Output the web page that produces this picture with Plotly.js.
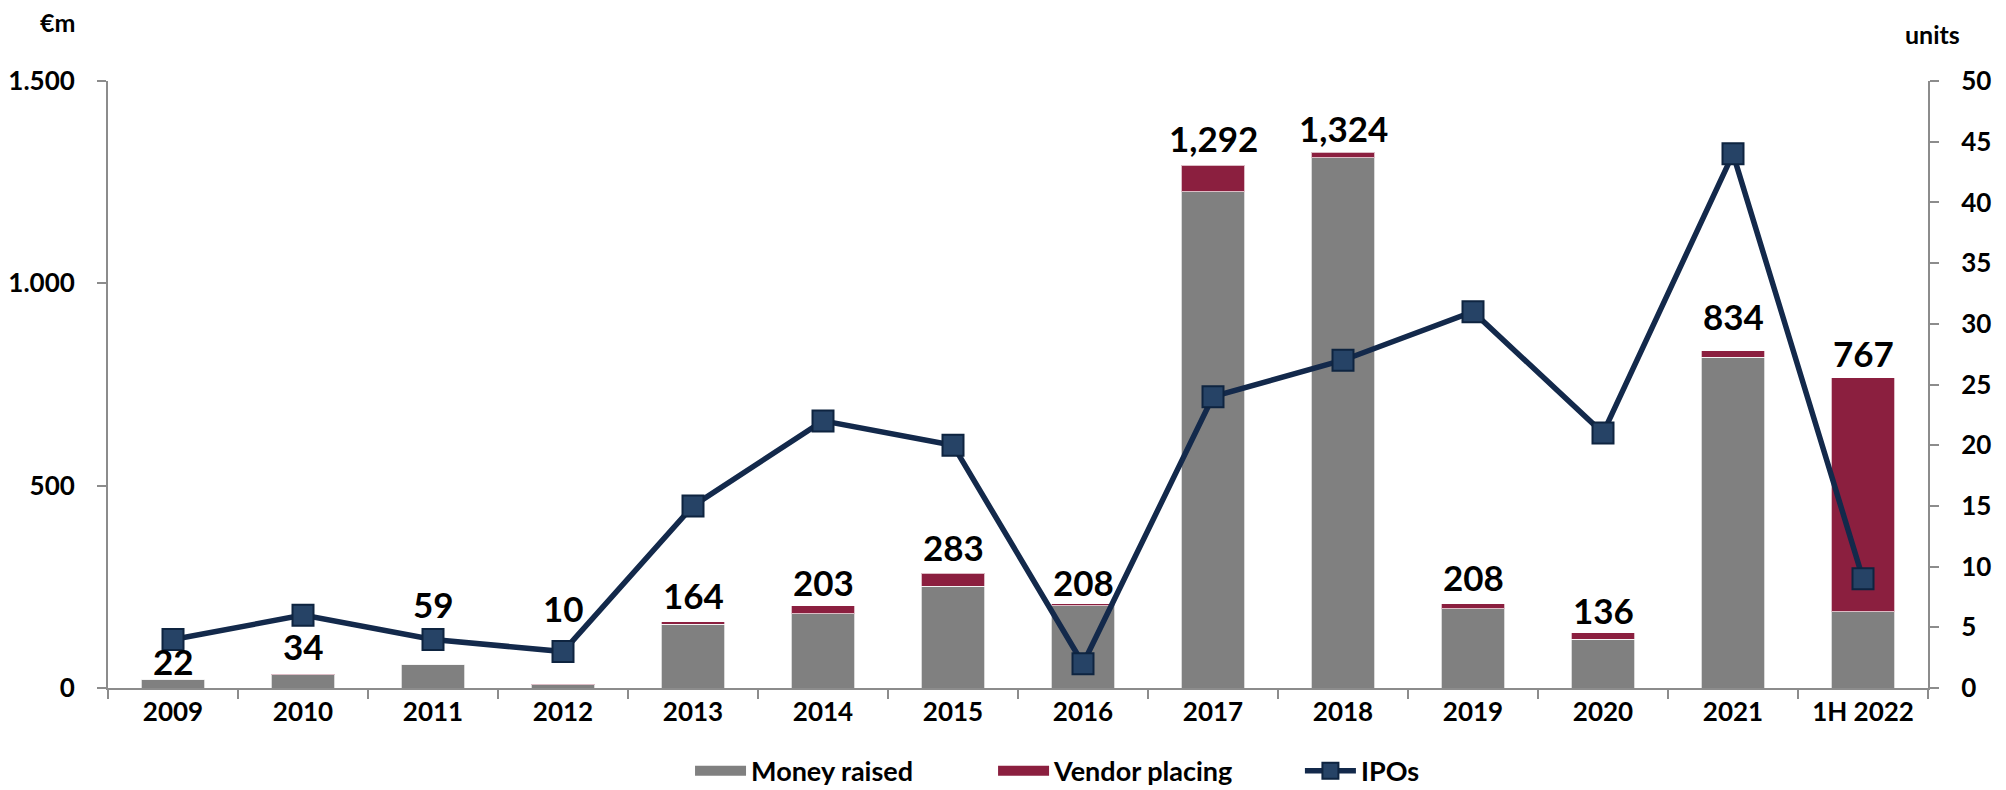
<!DOCTYPE html>
<html><head><meta charset="utf-8">
<script src="https://cdn.plot.ly/plotly-3.0.1.min.js"></script>
<style>html,body{margin:0;padding:0;background:#fff}#chart{width:2006px;height:790px}</style>
</head><body><div id="chart"></div>
<script>
const categories = ['2009','2010','2011','2012','2013','2014','2015','2016','2017','2018','2019','2020','2021','1H 2022'];
const moneyRaised = [22,33,59,8,158,184,252,203,1226,1310,196,121,817,189];
const vendorPlacing = [0,1,0,2,6,19,31,5,66,14,12,15,17,578];
const totals = [22,34,59,10,164,203,283,208,1292,1324,208,136,834,767];
const ipos = [4,6,4,3,15,22,20,2,24,27,31,21,44,9];
// pixel offsets of the total labels above the bar tops (style only)
const labelShift = [18,28,60,76,27,24,26,22,27,24,27,23,35,25];

const FONT = 'Lato, "Liberation Sans", Arial, sans-serif';
const AX = '#8C8C8C';
const GREY = '#808080', RED = '#8B1F3F', NAVY = '#13294B';

const traces = [
  {type:'bar', name:'Money raised', x:categories, y:moneyRaised,
   marker:{color:GREY, line:{color:'rgba(255,255,255,0.7)', width:1}},
   showlegend:false, hoverinfo:'x+y+name'},
  {type:'bar', name:'Vendor placing', x:categories, y:vendorPlacing,
   marker:{color:RED, line:{color:'rgba(255,255,255,0.7)', width:1}},
   showlegend:false, hoverinfo:'x+y+name'},
  {type:'scatter', mode:'lines+markers', name:'IPOs', x:categories, y:ipos, yaxis:'y2',
   line:{color:NAVY, width:5.5},
   marker:{symbol:'square', size:21, color:'#264366', line:{color:'#0E2440', width:2}},
   legend:'legend3', hoverinfo:'x+y+name'},
  // legend swatches for the bar series
  {type:'scatter', mode:'lines', name:'Money raised', x:[null], y:[null],
   line:{color:GREY, width:16}, legend:'legend', hoverinfo:'skip'},
  {type:'scatter', mode:'lines', name:'Vendor placing', x:[null], y:[null],
   line:{color:RED, width:16}, legend:'legend2', hoverinfo:'skip'}
];

const annotations = categories.map((c,i)=>({
  x:i, y:totals[i], xref:'x', yref:'y', yanchor:'middle', yshift:labelShift[i],
  text:totals[i].toLocaleString('en-US'), showarrow:false,
  font:{family:FONT, size:35, color:'#000', weight:'bold'}
}));
annotations.push({xref:'paper', yref:'paper', x:-0.0275, y:1.097, xanchor:'center', yanchor:'middle',
  text:'€m', showarrow:false, font:{family:FONT, size:25, color:'#000', weight:'bold'}});
annotations.push({xref:'paper', yref:'paper', x:1.0027, y:1.0774, xanchor:'center', yanchor:'middle',
  text:'units', showarrow:false, font:{family:FONT, size:25, color:'#000', weight:'bold'}});

const legBase = {orientation:'h', yanchor:'middle', y:-0.137, xanchor:'left', itemwidth:51,
  font:{family:FONT, size:27, color:'#000', weight:'bold'}, bgcolor:'rgba(0,0,0,0)', borderwidth:0};

const tickFont = {family:FONT, size:26, color:'#000', weight:'bold'};

const layout = {
  width:2006, height:790,
  paper_bgcolor:'#fff', plot_bgcolor:'#fff',
  margin:{l:108, r:78, t:81, b:102, pad:0, autoexpand:false},
  barmode:'stack', bargap:0.515,
  separators:',.',
  font:{family:FONT, color:'#000'},
  showlegend:true,
  legend:Object.assign({}, legBase, {x:0.3198}),
  legend2:Object.assign({}, legBase, {x:0.4863}),
  legend3:Object.assign({}, legBase, {x:0.6549}),
  xaxis:{type:'category', categoryorder:'array', categoryarray:categories, range:[-0.5, categories.length-0.5],
    autorange:false, showline:true, linecolor:AX, linewidth:2, ticks:'outside', tickson:'boundaries',
    ticklen:9, tickwidth:2, tickcolor:AX, showgrid:false, zeroline:false, tickangle:0,
    tickfont:tickFont},
  yaxis:{range:[0,1500], autorange:false, dtick:500, tickformat:',', showline:true, linecolor:AX, linewidth:2,
    ticks:'outside', ticklen:9, tickwidth:2, tickcolor:AX, showgrid:false, zeroline:false,
    ticklabelstandoff:17, tickfont:tickFont},
  yaxis2:{range:[0,50], autorange:false, dtick:5, overlaying:'y', side:'right', showline:true, linecolor:AX, linewidth:2,
    ticks:'outside', ticklen:9, tickwidth:2, tickcolor:AX, showgrid:false, zeroline:false,
    ticklabelstandoff:17, tickfont:tickFont},
  annotations:annotations
};

Plotly.newPlot('chart', traces, layout, {displayModeBar:false, staticPlot:true});
</script></body></html>
